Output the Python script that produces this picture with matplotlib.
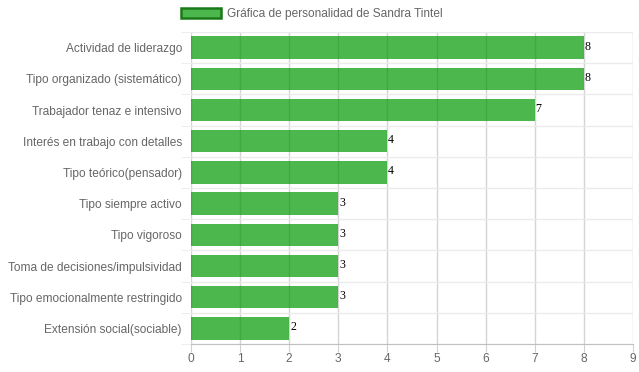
import matplotlib.pyplot as plt
import numpy as np

# datos
categorias = ['Actividad de liderazgo', 'Tipo organizado (sistemático)',
              'Trabajador tenaz e intensivo', 'Interés en trabajo con detalles',
              'Tipo teórico(pensador)', 'Tipo siempre activo', 'Tipo vigoroso',
              'Toma de decisiones/impulsividad', 'Tipo emocionalmente restringido',
              'Extensión social(sociable)']
valores = [8, 8, 7, 4, 4, 3, 3, 3, 3, 2]
serie = 'Gráfica de personalidad de Sandra Tintel'

plt.rcParams['font.family'] = ['Liberation Sans', 'DejaVu Sans']

fig = plt.figure(figsize=(6.39, 3.72), dpi=100)
ax = fig.add_axes([191 / 639, 1 - 344 / 372, 442 / 639, 312 / 372])

y = np.arange(len(categorias))
bar_color = (0.0, 0.6, 0.0, 0.7)
bars = ax.barh(y, valores, height=0.72, color=bar_color, zorder=3, label=serie)

# etiquetas de valor al final de cada barra
for yi, v in zip(y, valores):
    ax.annotate(str(v), (v, yi), xytext=(0.6, -1.5), textcoords='offset points',
                ha='left', va='baseline', fontsize=8.6, color='black',
                family=['Liberation Serif', 'DejaVu Serif'], zorder=4)

ax.set_xlim(0, 9)
ax.set_ylim(len(categorias) - 0.5, -0.5)

ax.set_xticks(range(10))
ax.set_yticks(y)
ax.set_yticklabels(categorias)
ax.set_yticks(np.arange(-0.5, len(categorias)), minor=True)

ax.tick_params(axis='x', length=5.5, color='#d0d0d0', labelsize=8.6,
               labelcolor='#666666', pad=1)
ax.tick_params(axis='y', which='major', length=0, labelsize=8.6,
               labelcolor='#666666', pad=6.5)
ax.tick_params(axis='y', which='minor', length=7, color='#ebebeb')

ax.grid(axis='x', color='#d4d4d4', linewidth=1, zorder=1)
ax.grid(axis='y', which='minor', color='#ebebeb', linewidth=1, zorder=1)
ax.set_axisbelow(True)

for s in ['top', 'right', 'left']:
    ax.spines[s].set_visible(False)
ax.spines['bottom'].set_color('#c0c0c0')

leg = fig.legend(handles=[bars], labels=[serie], loc='center left',
                 bbox_to_anchor=(176 / 639, 1 - 14 / 372), frameon=False,
                 fontsize=8.6, handlelength=3.4, handleheight=0.95,
                 handletextpad=0.5, borderaxespad=0)
for t in leg.get_texts():
    t.set_color('#666666')
for h in leg.legend_handles:
    h.set_edgecolor('#1a7a1a')
    h.set_linewidth(1.8)

fig.savefig('out.png', dpi=100)
